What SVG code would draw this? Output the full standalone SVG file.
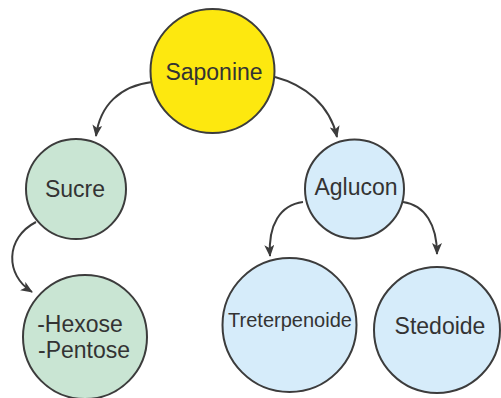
<svg xmlns="http://www.w3.org/2000/svg" width="501" height="398" viewBox="0 0 501 398">
<style>
.n{stroke:#3c3c3c;stroke-width:2}
.t{font-family:"Liberation Sans",Arial,sans-serif;font-size:23px;fill:#333;text-anchor:middle}
.c{fill:none;stroke:#3c3c3c;stroke-width:2}
</style>
<defs>
<marker id="ah" viewBox="0 0 12 10" refX="11" refY="5" markerWidth="12" markerHeight="10" markerUnits="userSpaceOnUse" orient="auto">
<path d="M0,0 L12,5 L0,10 L3,5 Z" fill="#3c3c3c"/>
</marker>
</defs>
<rect width="501" height="398" fill="#fff"/>
<g id="connectors">
<path class="c" d="M152,82 C120,86 100,105 96,136" marker-end="url(#ah)"/>
<path class="c" d="M275,77 C305,85 330,105 337,137" marker-end="url(#ah)"/>
<path class="c" d="M36,222 C5,238 5,275 32,292" marker-end="url(#ah)"/>
<path class="c" d="M303,202 C280,205 268,225 270,256" marker-end="url(#ah)"/>
<path class="c" d="M403,202 C425,205 437,225 437,254" marker-end="url(#ah)"/>
</g>
<g id="saponine">
<circle class="n" cx="212.5" cy="71" r="62" fill="#fde80f"/>
<text class="t" x="214" y="80">Saponine</text>
</g>
<g id="sucre">
<circle class="n" cx="76" cy="189" r="50" fill="#c9e5d3"/>
<text class="t" x="75" y="197">Sucre</text>
</g>
<g id="hexose">
<circle class="n" cx="85" cy="337" r="62" fill="#c9e5d3"/>
<text class="t" x="80" y="332">-Hexose</text>
<text class="t" x="84" y="358">-Pentose</text>
</g>
<g id="aglucon">
<circle class="n" cx="354.5" cy="189" r="49.5" fill="#d6ecfa"/>
<text class="t" x="356" y="195">Aglucon</text>
</g>
<g id="treterpenoide">
<circle class="n" cx="289.5" cy="325" r="67" fill="#d6ecfa"/>
<text class="t" x="290" y="327" style="font-size:20px">Treterpenoide</text>
</g>
<g id="stedoide">
<circle class="n" cx="437" cy="330" r="63" fill="#d6ecfa"/>
<text class="t" x="440" y="334">Stedoide</text>
</g>
</svg>
